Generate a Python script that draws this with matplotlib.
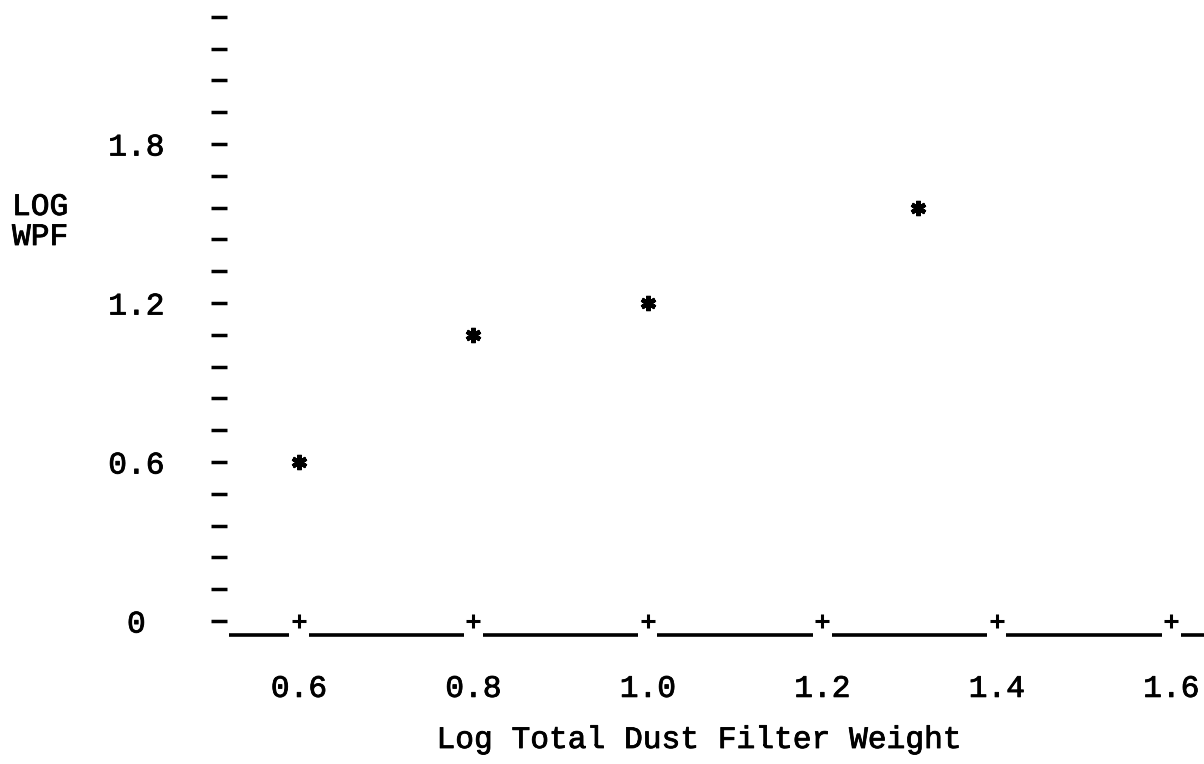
import numpy as np
import matplotlib
matplotlib.use("Agg")
import matplotlib.pyplot as plt
import matplotlib.patheffects as pe

# ---- data ----
dust_weight = [0.6, 0.8, 1.0, 1.31]
log_wpf = [0.6, 1.08, 1.2, 1.56]

x_ticks = [0.6, 0.8, 1.0, 1.2, 1.4, 1.6]
x_tick_labels = ["0.6", "0.8", "1.0", "1.2", "1.4", "1.6"]
y_major = [0.0, 0.6, 1.2, 1.8]
y_major_labels = ["0", "0.6", "1.2", "1.8"]
y_dash_step = 0.12
y_dash_count = 20

FONT = "Liberation Mono"
FS = 22.5
bold = [pe.withStroke(linewidth=0.6, foreground="black")]

W, H = 1204, 764
fig = plt.figure(figsize=(W / 100, H / 100), dpi=100)
fig.patch.set_facecolor("white")

left_px, right_px, top_px, bottom_px = 227, 1204, 0, 635
ax = fig.add_axes([left_px / W, 1 - bottom_px / H,
                   (right_px - left_px) / W, (bottom_px - top_px) / H])
ax.set_xlim(0.5175, 1.6375)
ax.set_ylim(-0.0528, 2.3434)
for s in ax.spines.values():
    s.set_visible(False)

# y axis: dashes as ticks
y_all = [round(i * y_dash_step, 2) for i in range(y_dash_count)]
y_minor = [v for v in y_all if not any(abs(v - m) < 1e-6 for m in y_major)]
ax.set_yticks(y_major)
ax.set_yticklabels(y_major_labels, fontfamily=FONT, fontsize=FS)
ax.set_yticks(y_minor, minor=True)
ax.tick_params(axis="y", which="both", direction="out", length=11.25, width=2.5,
               color="black", left=True)
ax.tick_params(axis="y", which="major", pad=54)
for lab in ax.get_yticklabels():
    lab.set_horizontalalignment("center")
    lab.set_path_effects(bold)

# x axis: '+' marks on the zero line, underscores below
ax.set_xticks(x_ticks)
ax.set_xticklabels(x_tick_labels, fontfamily=FONT, fontsize=FS)
ax.tick_params(axis="x", length=0, pad=28)
for lab in ax.get_xticklabels():
    lab.set_path_effects(bold)
ax.plot(x_ticks, [0] * len(x_ticks), linestyle="none", marker="+",
        markersize=10, markeredgewidth=2.2, color="black", clip_on=False)

gap = 0.011
xmin, xmax = ax.get_xlim()
edges = [xmin + 0.002] + x_ticks + [xmax]
trans = ax.get_xaxis_transform()
for a, b in zip(edges[:-1], edges[1:]):
    a0 = a + gap if a in x_ticks else a
    b0 = b - gap if b in x_ticks else b
    ax.plot([a0, b0], [0.0, 0.0], color="black", lw=2.6, transform=trans,
            clip_on=False, solid_capstyle="butt")

# data points as asterisks
ax.plot(dust_weight, log_wpf, linestyle="none", marker=(6, 2, 0),
        markersize=11, markeredgewidth=3.2, color="black")

# labels
ax.set_xlabel("Log Total Dust Filter Weight", fontfamily=FONT, fontsize=FS)
ax.xaxis.set_label_coords((699 - left_px) / (right_px - left_px),
                          -(740 - bottom_px) / (bottom_px - top_px))
ax.xaxis.label.set_verticalalignment("center")
ax.xaxis.label.set_path_effects(bold)

fig.text(12 / W, 1 - 222 / H, "LOG\nWPF", fontfamily=FONT, fontsize=FS,
         ha="left", va="center", linespacing=1.0, path_effects=bold)

fig.savefig("out.png", dpi=100, facecolor="white")
